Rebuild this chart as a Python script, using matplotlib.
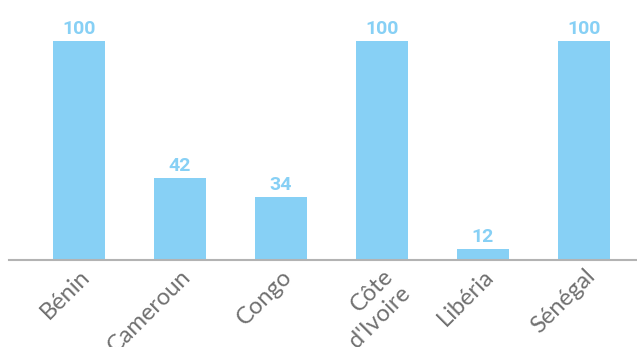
import matplotlib
matplotlib.use("Agg")
import matplotlib.pyplot as plt

countries = ["Bénin", "Cameroun", "Congo", "Côte\nd'Ivoire", "Libéria", "Sénégal"]
values = [100, 42, 34, 100, 12, 100]

bar_color = "#87d0f5"
label_color = "#707070"

fig = plt.figure(figsize=(6.37, 3.47), dpi=100)
ax = fig.add_axes([9 / 637, 1 - 260 / 347, 628 / 637, 260 / 347])

x = list(range(len(countries)))
bars = ax.bar(x, values, width=0.52, color=bar_color, zorder=2)

for xi, v in zip(x, values):
    ax.annotate(str(v), (xi, v), xytext=(0, 2), textcoords="offset points",
                ha="center", va="bottom", color=bar_color,
                fontsize=14, fontweight="bold", family="Roboto")

ax.set_xlim(-0.693, 5.525)
ax.set_ylim(7.4, 117.3)

ax.set_xticks(x)
ax.set_xticklabels(countries, rotation=45, ha="right", rotation_mode="anchor",
                   fontsize=17, color=label_color, family="Lato",
                   fontweight="normal", multialignment="right",
                   linespacing=1.2)
ax.tick_params(axis="x", length=0, pad=4)
ax.set_yticks([])

for side in ["left", "right", "top"]:
    ax.spines[side].set_visible(False)
ax.spines["bottom"].set_color("#b3b3b3")
ax.spines["bottom"].set_linewidth(1.5)

fig.savefig("out.png", dpi=100)
